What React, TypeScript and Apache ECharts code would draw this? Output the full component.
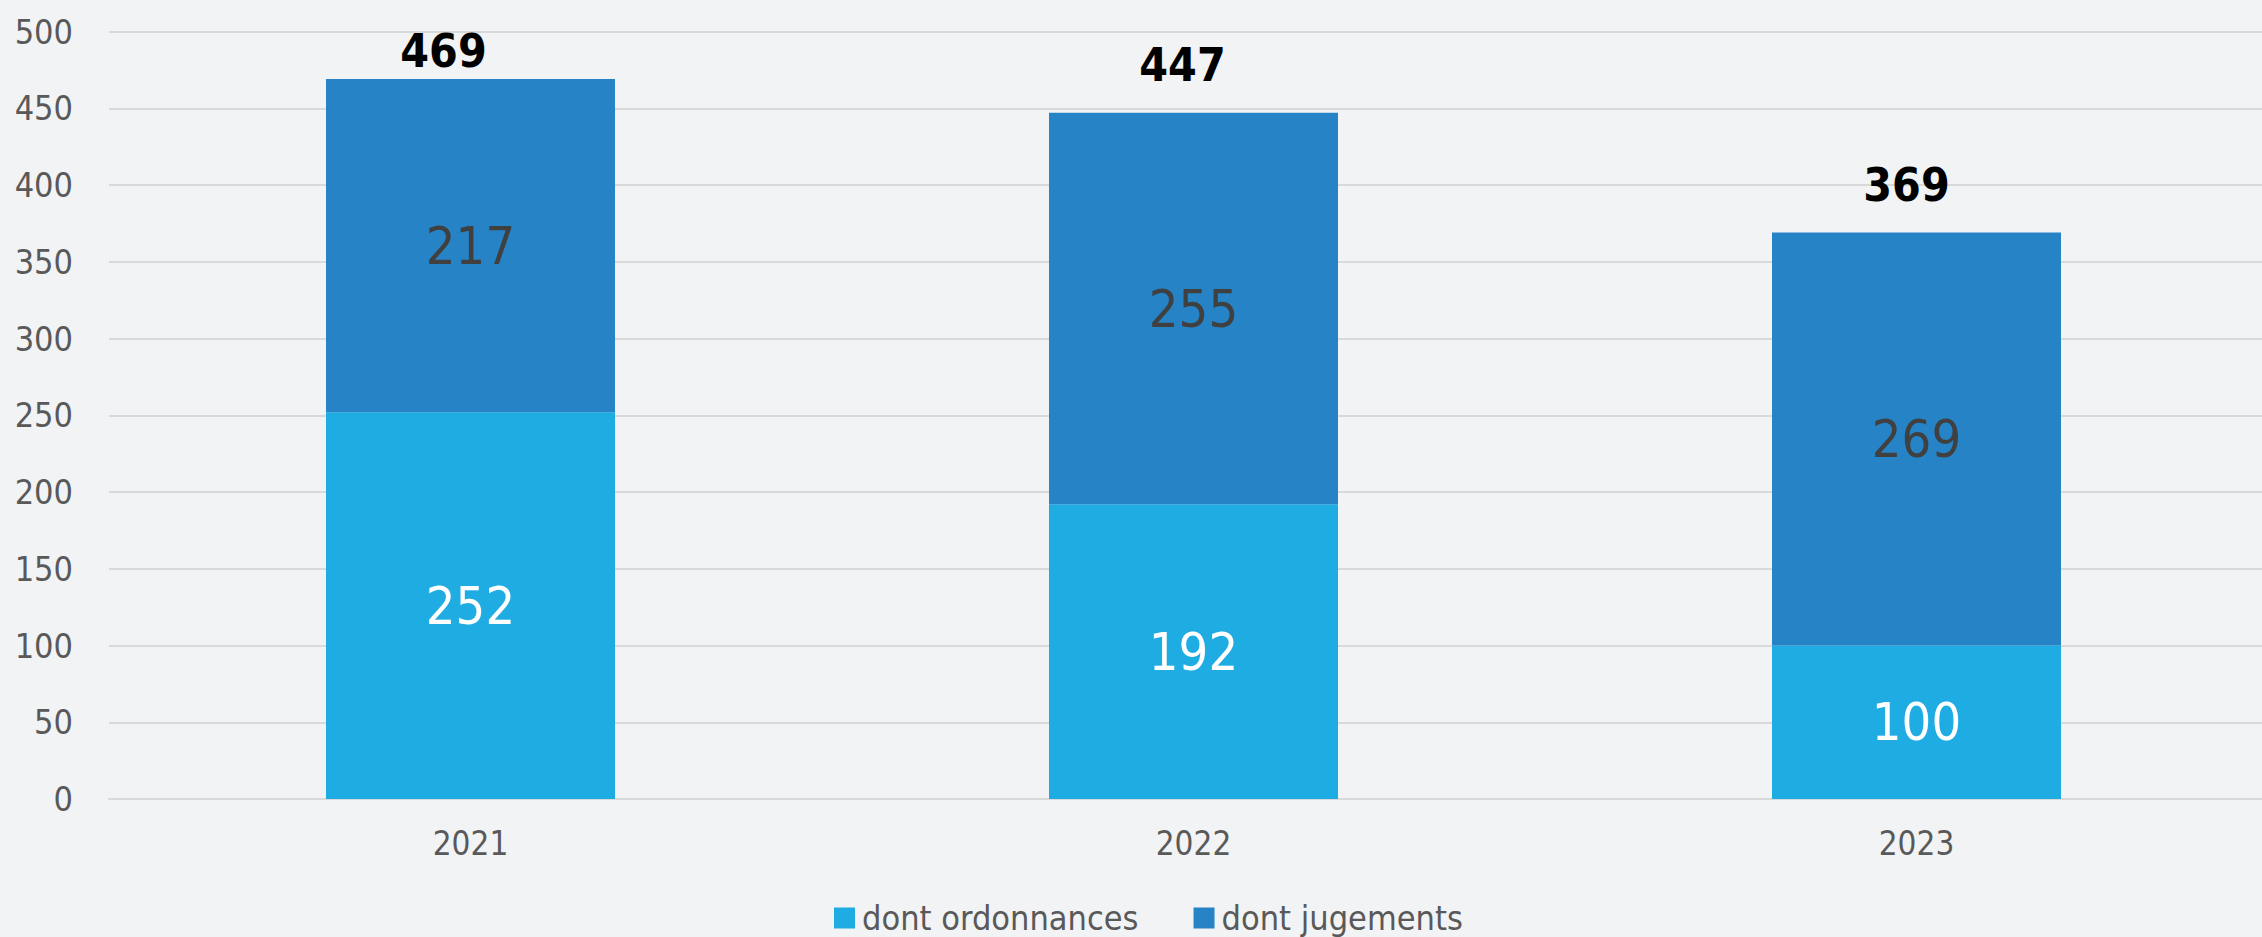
import React, { useEffect, useRef } from "react";
import * as echarts from "echarts";

const categories = ["2021", "2022", "2023"];
const ordonnances = [252, 192, 100];
const jugements = [217, 255, 269];
const totals = [469, 447, 369];
const yTicks = [0, 50, 100, 150, 200, 250, 300, 350, 400, 450, 500];

const FONT = "'DejaVu Sans Condensed', 'DejaVu Sans', sans-serif";
const totalOffsets: [number, number][] = [[-27, 20], [-11, 0], [-10, 0]];

export default function App() {
  const ref = useRef<HTMLDivElement>(null);
  useEffect(() => {
    if (!ref.current) return;
    const chart = echarts.init(ref.current, undefined, { renderer: "svg" });
    chart.setOption({
      animation: false,
      backgroundColor: "#f2f3f5",
      grid: {
        left: 109,
        top: 31.5,
        width: 2169,
        height: 767.5,
        containLabel: false,
        outerBoundsMode: "none",
      },
      legend: {
        data: ["dont ordonnances", "dont jugements"],
        left: 834,
        top: 901,
        itemWidth: 21,
        itemHeight: 21,
        itemGap: 55,
        icon: "rect",
        padding: 0,
        textStyle: {
          fontFamily: FONT,
          fontSize: 34,
          lineHeight: 30,
          color: "#595959",
          padding: [0, 0, 0, 2],
        },
      },
      xAxis: {
        type: "category",
        data: categories,
        axisLine: { lineStyle: { color: "#d9d9d9", width: 2 } },
        axisTick: { show: false },
        axisLabel: { fontFamily: FONT, fontSize: 33, color: "#595959", margin: 28 },
      },
      yAxis: {
        type: "value",
        min: yTicks[0],
        max: yTicks[yTicks.length - 1],
        interval: 50,
        axisLine: { show: false },
        axisTick: { show: false },
        splitLine: { lineStyle: { color: "#d9d9d9", width: 2 } },
        axisLabel: { fontFamily: FONT, fontSize: 34, color: "#595959", margin: 36 },
      },
      series: [
        {
          name: "dont ordonnances",
          type: "bar",
          stack: "total",
          barWidth: 289,
          data: ordonnances,
          itemStyle: { color: "#1eace3" },
          label: { show: true, position: "inside", fontFamily: FONT, fontSize: 52, color: "#ffffff" },
        },
        {
          name: "dont jugements",
          type: "bar",
          stack: "total",
          barWidth: 289,
          data: jugements,
          itemStyle: { color: "#2683c6" },
          label: { show: true, position: "inside", fontFamily: FONT, fontSize: 52, color: "#404040" },
        },
        {
          name: "total",
          type: "bar",
          stack: "total",
          barWidth: 289,
          data: totals.map((t, i) => ({
            value: 0,
            label: { offset: totalOffsets[i], formatter: String(t) },
          })),
          itemStyle: { color: "transparent" },
          label: {
            show: true,
            position: "top",
            distance: 25,
            fontFamily: FONT,
            fontSize: 46,
            fontWeight: "bold",
            color: "#000000",
          },
        },
      ],
    });
    return () => chart.dispose();
  }, []);
  return (
    <div
      ref={ref}
      style={{ position: "fixed", left: 0, top: 0, width: 2262, height: 937 }}
    />
  );
}
